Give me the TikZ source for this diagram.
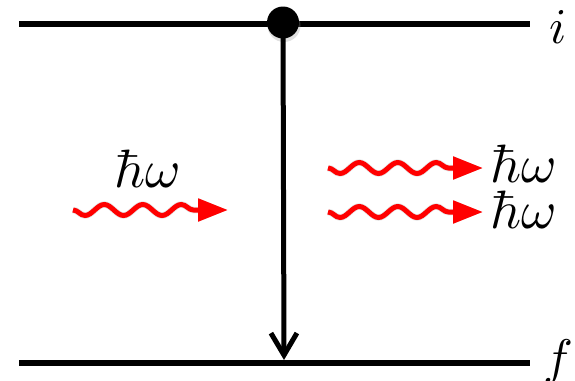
\documentclass[tikz,border=0pt]{standalone}
\usepackage{graphicx}
\usetikzlibrary{arrows.meta,decorations.pathmorphing}
\begin{document}
\begin{tikzpicture}[x=1pt,y=-1pt,
  level/.style={line width=5.5pt},
  photon/.style={red, line width=5pt, line join=round,
    decorate, decoration={snake, segment length=38.5pt, amplitude=5.5pt, post length=26pt, mirror},
    -{Triangle[length=30pt,width=22pt]}},
  photonshadow/.style={black!35, opacity=0.3, line width=6.5pt, shift={(1.5,3)},
    decorate, decoration={snake, segment length=38.5pt, amplitude=5.5pt, post length=26pt, mirror},
    -{Triangle[length=30pt,width=22pt]}},
  lbl/.style={inner sep=0pt, anchor=base}]
\useasboundingbox (0,0) rectangle (575,380);
% levels
\coordinate (tl) at (19,24);
\coordinate (tr) at (530,24);
\coordinate (bl) at (19,363);
\coordinate (br) at (530,363);
\coordinate (bm) at (284,360);
\draw[level] (tl) -- (tr);
\draw[level] (bl) -- (br);
\node[lbl] (i) at (558,43) {\scalebox{5}{$i$}};
\node[lbl] (f) at (558,374) {\scalebox{5}{$f$}};
% dot shadow and dot
\fill[black!40, opacity=0.3] (284,25.5) circle (16.5pt);
\node[circle, fill=black, inner sep=0pt, minimum size=32pt] (dot) at (283,22.5) {};
% transition arrow
\draw[line width=5pt, -{Straight Barb[length=22pt,width=26pt,line width=5pt]}] (dot.center) -- (bm);
% photons
\coordinate (a1) at (73,210);  \coordinate (a2) at (228,210);
\coordinate (b1) at (328,168); \coordinate (b2) at (483,168);
\coordinate (c1) at (328,212); \coordinate (c2) at (483,212);
\draw[photonshadow] (a1) -- (a2);
\draw[photonshadow] (b1) -- (b2);
\draw[photonshadow] (c1) -- (c2);
\draw[photon] (a1) -- (a2);
\draw[photon] (b1) -- (b2);
\draw[photon] (c1) -- (c2);
\node[lbl] (e1) at (147.5,187) {\scalebox{5.4}{$\hbar\omega$}};
\node[lbl] (e2) at (524,182) {\scalebox{5.4}{$\hbar\omega$}};
\node[lbl] (e3) at (524,228) {\scalebox{5.4}{$\hbar\omega$}};
\end{tikzpicture}
\end{document}
